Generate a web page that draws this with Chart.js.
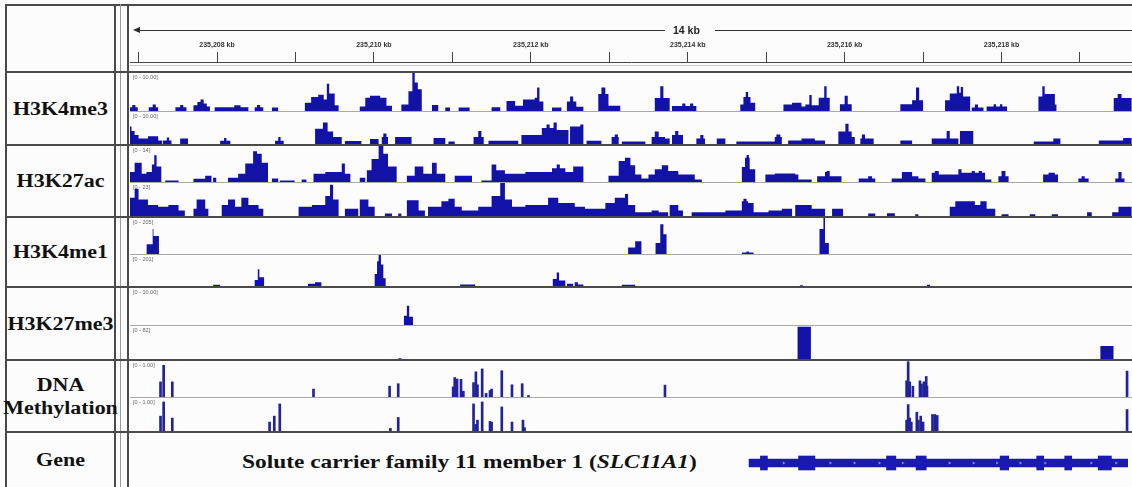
<!DOCTYPE html>
<html>
<head>
<meta charset="utf-8">
<script src="https://cdn.jsdelivr.net/npm/chart.js@4.4.1/dist/chart.umd.min.js"></script>
<style>
  html, body { margin: 0; padding: 0; background: #fff; }
  #fig { position: relative; width: 1132px; height: 487px; overflow: hidden; background: #fcfcfc;
         font-family: "Liberation Serif", "Times New Roman", serif; }
  .abs { position: absolute; }
  .hline { position: absolute; height: 2px; background: #4a4a4a; }
  .sep { position: absolute; height: 1px; background: #a8a8a8; }
  .vline { position: absolute; width: 2px; background: #4a4a4a; }
  .name { position: absolute; left: 6px; width: 109px; text-align: center; font-weight: bold;
          font-size: 18px; line-height: 20px; color: #111; transform: scaleX(1.22); transform-origin: 50% 50%; }
  .range { position: absolute; left: 133px; font: 5.5px "Liberation Sans", Arial, sans-serif; color: #666; }
  #span .ln { position: absolute; top: 5px; height: 1px; background: #333; }
  #span .arrow { position: absolute; left: 0; top: 2px; width: 0; height: 0;
                 border-top: 3px solid transparent; border-bottom: 3px solid transparent; border-right: 7px solid #222; }
  #span .txt { position: absolute; left: 540px; top: -1px; font: bold 10.5px "Liberation Sans", Arial, sans-serif; color: #222; }
  #gene-name { position: absolute; left: 242px; top: 451px; font-weight: bold; font-size: 19px; color: #111;
               white-space: nowrap; transform: scaleX(1.23); transform-origin: 0 50%; }
</style>
</head>
<body>
<div id="fig"></div>
<script>
// Positions are kb offsets from 235,200 kb.
const KB_BASE = 235200;
const VIEW_START = 6.891;
const VIEW_END = 19.663;

// Coverage tracks as bedGraph intervals: [start kb, end kb, value].
const H3K4ME3_A = [
  [6.88,6.92,1.0],[6.92,6.96,1.6],[6.96,6.99,1.0],
  [7.13,7.18,1.0],[7.18,7.22,1.7],[7.22,7.25,1.0],
  [7.47,7.53,1.0],[7.53,7.57,1.6],[7.57,7.61,1.0],
  [7.70,7.75,1.5],[7.75,7.79,2.4],[7.79,7.83,3.0],[7.83,7.87,2.0],[7.87,7.91,1.2],
  [7.97,8.22,1.0],[8.22,8.30,1.5],[8.30,8.40,1.0],
  [8.48,8.51,1.0],[8.51,8.55,1.6],[8.55,8.59,1.0],
  [8.70,8.78,0.9],
  [9.12,9.20,2.2],[9.20,9.29,3.7],[9.29,9.36,4.3],[9.36,9.40,3.0],[9.40,9.43,7.2],[9.43,9.50,4.6],[9.50,9.55,1.5],
  [9.82,9.89,1.2],[9.89,9.95,3.5],[9.95,10.08,4.0],[10.08,10.16,3.5],[10.16,10.23,1.4],
  [10.35,10.44,1.7],[10.44,10.49,5.2],[10.49,10.52,10],[10.52,10.56,7.5],[10.56,10.61,5.7],
  [10.74,10.82,1.6],[10.91,10.97,0.9],[11.08,11.22,0.9],[11.50,11.61,1.0],
  [11.69,11.80,2.6],[11.80,11.90,1.4],[11.90,12.05,3.0],[12.05,12.08,3.5],[12.08,12.11,6.2],[12.11,12.16,2.5],
  [12.27,12.39,0.9],
  [12.46,12.50,2.5],[12.50,12.54,3.8],[12.54,12.58,2.5],[12.58,12.67,1.1],
  [12.86,12.90,4.5],[12.90,12.95,6.2],[12.95,12.99,4.5],[12.99,13.14,1.4],
  [13.58,13.65,3.4],[13.65,13.69,6.5],[13.69,13.77,3.4],
  [13.80,13.93,1.3],[13.93,13.97,2.0],[13.97,14.03,1.3],[14.03,14.07,2.0],[14.07,14.11,1.3],
  [14.67,14.71,1.7],[14.71,14.74,3.7],[14.74,14.77,5.0],[14.77,14.80,3.7],[14.80,14.86,2.2],
  [15.22,15.33,1.7],[15.33,15.45,2.2],[15.45,15.50,1.2],[15.50,15.55,1.7],[15.55,15.58,4.2],[15.58,15.67,1.5],
  [15.67,15.74,3.5],[15.74,15.77,6.5],[15.77,15.81,3.5],
  [15.94,16.00,1.8],[16.00,16.04,4.0],[16.04,16.09,1.8],
  [16.71,16.86,1.8],[16.86,16.91,2.8],[16.91,16.95,6.2],[16.95,17.00,2.8],
  [17.28,17.34,2.8],[17.34,17.43,4.6],[17.43,17.46,6.5],[17.46,17.48,4.8],[17.48,17.51,6.3],[17.51,17.60,3.8],
  [17.62,17.66,0.9],[17.66,17.70,1.7],[17.70,17.77,0.9],
  [17.81,17.90,1.2],[17.90,17.93,1.8],[17.93,17.98,1.2],[17.98,18.01,1.8],[18.01,18.07,1.2],
  [18.47,18.52,3.8],[18.52,18.55,6.5],[18.55,18.68,4.5],[18.68,18.70,1.7],
  [19.43,19.48,3.4],[19.48,19.53,4.5],[19.53,19.66,3.4]
];
const H3K4ME3_B = [
  [6.87,6.91,5.5],[6.91,6.95,4.1],[6.95,7.00,2.8],[7.00,7.12,1.7],[7.12,7.25,2.4],[7.25,7.30,1.1],
  [7.31,7.36,1.1],[7.36,7.39,2.0],[7.39,7.42,1.1],
  [7.53,7.63,1.7],
  [8.04,8.09,1.0],[8.09,8.12,1.9],[8.12,8.17,1.0],
  [8.74,8.78,1.0],[8.78,8.81,2.2],[8.81,8.85,1.0],
  [9.25,9.35,4.8],[9.35,9.41,6.7],[9.41,9.48,3.9],[9.48,9.59,2.2],
  [9.63,9.84,0.9],[9.95,10.06,1.6],
  [10.10,10.12,2.2],[10.12,10.16,3.3],[10.16,10.18,2.2],
  [10.27,10.48,2.2],[10.76,10.91,1.9],[10.95,11.03,0.8],
  [11.27,11.33,2.2],[11.33,11.37,4.1],[11.37,11.40,2.2],
  [11.46,11.84,1.0],
  [11.88,12.14,2.8],[12.14,12.20,5.0],[12.20,12.24,6.1],[12.24,12.29,5.0],[12.29,12.33,6.7],[12.33,12.48,4.4],
  [12.50,12.63,5.5],[12.63,12.67,6.1],
  [12.71,12.90,1.0],
  [13.03,13.07,2.2],[13.07,13.11,3.0],[13.11,13.12,2.2],
  [13.16,13.46,0.8],
  [13.54,13.58,2.2],[13.58,13.63,3.9],[13.63,13.71,2.2],[13.71,13.77,1.7],
  [13.80,13.84,2.8],[13.84,13.88,4.1],[13.88,13.94,2.8],
  [14.11,14.16,1.7],[14.16,14.20,2.8],[14.20,14.22,1.7],
  [14.37,14.48,1.7],[14.62,15.11,0.8],
  [15.11,15.13,2.2],[15.13,15.18,3.0],[15.18,15.20,2.2],
  [15.28,15.45,1.1],[15.45,15.62,1.7],[15.62,15.75,1.1],
  [15.92,16.01,3.9],[16.01,16.05,6.3],[16.05,16.09,3.9],[16.09,16.13,2.2],
  [16.20,16.22,1.7],[16.22,16.26,3.0],[16.26,16.37,1.7],
  [16.71,16.86,1.1],
  [17.11,17.30,1.7],[17.30,17.34,4.1],[17.34,17.45,1.7],[17.47,17.64,4.1],
  [18.41,18.66,0.8],[18.66,18.75,1.7],
  [19.24,19.55,1.1],[19.55,19.66,1.9]
];
const H3K27AC_A = [
  [6.87,6.95,3.9],[6.95,7.04,7.5],[7.04,7.10,3.2],[7.10,7.17,3.9],[7.17,7.20,6.8],[7.20,7.23,10.4],[7.23,7.29,6.0],
  [7.34,7.51,0.6],
  [7.70,7.85,1.3],[7.85,7.93,2.4],[7.95,7.99,1.7],
  [8.14,8.27,1.7],[8.27,8.36,3.2],[8.36,8.46,7.2],[8.46,8.51,12.0],[8.51,8.57,11.0],[8.57,8.65,7.5],
  [8.70,8.78,1.4],[8.80,8.99,0.6],[9.08,9.14,1.0],
  [9.23,9.38,3.2],[9.38,9.59,3.9],[9.59,9.63,7.2],[9.63,9.70,3.2],
  [9.82,9.89,1.7],[9.91,9.97,4.6],[9.97,10.06,8.9],[10.06,10.12,14],[10.12,10.18,11.0],[10.18,10.29,6.0],
  [10.42,10.52,2.4],[10.52,10.63,6.0],[10.63,10.74,3.2],[10.74,10.80,7.5],[10.80,10.91,3.2],
  [11.03,11.25,2.4],
  [11.37,11.50,0.6],[11.50,11.56,6.8],[11.56,11.67,4.6],[11.67,11.93,3.2],[11.93,12.27,3.9],
  [12.27,12.33,5.3],[12.33,12.37,6.8],[12.37,12.44,5.3],[12.44,12.54,3.9],[12.54,12.67,6.0],
  [12.99,13.12,2.4],[13.12,13.20,8.2],[13.20,13.27,9.4],[13.27,13.33,6.5],
  [13.33,13.41,2.9],[13.41,13.50,1.4],[13.50,13.58,2.9],[13.58,13.67,5.0],[13.67,13.75,6.5],[13.75,13.88,4.3],
  [13.88,14.09,2.9],[14.09,14.18,1.0],
  [14.69,14.73,5.8],[14.73,14.75,9.4],[14.75,14.78,10.5],[14.78,14.79,9.4],[14.79,14.86,5.0],
  [14.99,15.11,2.9],[15.11,15.37,3.3],[15.37,15.41,2.9],[15.41,15.58,1.0],
  [15.65,15.75,2.2],[15.75,15.77,3.9],[15.77,15.81,4.3],[15.81,15.96,2.2],
  [16.18,16.30,1.4],[16.30,16.35,2.2],[16.35,16.39,1.4],
  [16.60,16.73,1.4],[16.73,16.86,3.9],[16.86,16.94,2.2],[16.94,17.03,1.4],
  [17.11,17.15,3.6],[17.15,17.20,4.3],[17.20,17.45,2.9],[17.45,17.49,5.0],[17.49,17.62,3.6],[17.62,17.66,4.3],
  [17.66,17.71,3.6],[17.71,17.75,4.3],[17.75,17.79,3.6],[17.79,17.87,1.0],
  [17.96,18.00,2.2],[18.00,18.05,4.3],[18.05,18.09,2.2],
  [18.53,18.60,2.9],[18.60,18.68,3.6],[18.68,18.72,2.9],
  [18.98,19.02,1.4],[19.02,19.06,2.2],[19.06,19.11,1.4],
  [19.45,19.49,1.4],[19.49,19.53,3.9],[19.53,19.57,1.4]
];
const H3K27AC_B = [
  [6.87,6.95,12.8],[6.95,7.00,19.0],[7.00,7.12,11.5],[7.12,7.25,7.7],[7.25,7.38,6.4],[7.38,7.51,7.7],[7.51,7.59,3.8],
  [7.70,7.74,5.1],[7.74,7.85,11.5],[7.85,7.89,5.1],
  [8.06,8.14,7.7],[8.14,8.23,11.5],[8.23,8.31,6.4],[8.31,8.40,12.8],[8.40,8.53,7.7],[8.53,8.59,5.1],
  [9.04,9.21,6.4],[9.21,9.38,7.7],[9.38,9.44,14.0],[9.44,9.48,21.8],[9.48,9.55,11.5],
  [9.63,9.80,5.1],[9.82,9.93,11.5],[9.93,10.01,6.4],
  [10.14,10.23,1.8],[10.31,10.35,1.8],
  [10.42,10.57,11.0],[10.57,10.65,3.8],
  [10.69,10.86,6.4],[10.86,10.95,10.2],[10.95,11.03,12.0],[11.03,11.12,6.4],[11.12,11.33,3.8],
  [11.33,11.50,6.4],[11.50,11.61,14.0],[11.61,11.67,23],[11.67,11.76,11.5],[11.76,11.93,6.4],[11.93,12.22,7.7],
  [12.22,12.35,12.8],[12.35,12.56,9.0],[12.56,12.69,6.4],[12.69,12.95,5.1],[12.95,13.07,9.0],[13.07,13.20,12.8],
  [13.20,13.24,15.4],[13.24,13.33,7.7],[13.33,13.54,2.6],[13.54,13.63,3.8],[13.63,13.75,2.6],
  [13.77,13.88,7.7],[13.88,13.94,3.8],
  [14.05,14.48,2.6],[14.48,14.69,3.8],[14.69,14.71,10.2],[14.71,14.75,12.0],[14.75,14.77,10.2],[14.77,14.84,9.0],
  [14.84,15.03,2.6],[15.03,15.20,3.8],[15.20,15.33,5.1],[15.37,15.58,7.7],[15.58,15.75,5.1],[15.84,15.98,5.1],
  [16.30,16.39,1.8],[16.54,16.64,2.0],[16.90,16.94,1.3],
  [17.34,17.41,6.4],[17.41,17.66,10.2],[17.66,17.73,7.7],[17.73,17.81,10.2],[17.81,17.92,5.1],
  [18.00,18.09,1.3],[18.36,18.43,1.3],[18.64,18.72,1.3],[19.09,19.15,2.6],[19.41,19.49,2.6],[19.49,19.66,6.4]
];
const H3K4ME1_A = [
  [7.10,7.18,55],[7.18,7.19,143],[7.19,7.26,102],
  [13.24,13.33,37],[13.33,13.41,72],
  [13.59,13.65,62],[13.65,13.69,170],[13.69,13.73,113],
  [14.69,14.75,8],[14.75,14.78,14],[14.78,14.84,8],
  [15.68,15.73,143],[15.73,15.75,205],[15.75,15.80,62]
];
const H3K4ME1_B = [
  [7.95,8.04,8],[8.48,8.52,39],[8.52,8.54,108],[8.54,8.60,56],
  [9.16,9.25,14],[9.25,9.33,25],
  [10.01,10.04,77],[10.04,10.06,160],[10.06,10.09,201],[10.09,10.12,139],[10.12,10.15,50],
  [11.10,11.29,10],
  [12.28,12.33,46],[12.33,12.36,87],[12.36,12.44,35],[12.46,12.54,14],[12.56,12.60,25],[12.60,12.67,10],
  [13.16,13.33,8],[15.43,15.47,5],[17.05,17.09,8]
];
const H3K27ME3_A = [[10.38,10.42,2.5],[10.42,10.45,5.2],[10.45,10.50,2.2]];
const H3K27ME3_B = [[10.31,10.35,2],[15.40,15.57,80],[19.26,19.43,32]];

// CpG methylation levels: [position kb, beta].
const METH_A = [
  [7.28,0.42],[7.32,0.88],[7.43,0.42],[9.23,0.22],[10.20,0.30],[10.31,0.37],
  [11.01,0.28],[11.03,0.54],[11.06,0.50],[11.11,0.49],[11.14,0.16],[11.27,0.40],[11.30,0.70],[11.32,0.34],
  [11.38,0.78],[11.43,0.10],[11.48,0.18],[11.50,0.22],[11.63,0.73],[11.76,0.34],[11.89,0.37],[11.97,0.04],
  [13.71,0.33],[16.79,0.45],[16.81,0.98],[16.83,0.42],[16.87,0.30],[16.96,0.45],[16.98,0.36],[17.01,0.42],
  [17.04,0.57],[17.05,0.30],[19.60,0.72]
];
const METH_B = [
  [7.28,0.45],[7.32,0.88],[7.43,0.39],[8.67,0.27],[8.73,0.45],[8.80,0.82],[10.21,0.08],[10.31,0.41],
  [11.27,0.82],[11.30,0.20],[11.32,0.33],[11.38,0.88],[11.48,0.29],[11.50,0.27],[11.63,0.73],[11.76,0.27],
  [11.90,0.33],[11.92,0.10],[16.79,0.33],[16.81,0.80],[16.83,0.39],[16.85,0.27],[16.92,0.57],[16.94,0.33],
  [16.97,0.45],[17.00,0.27],[17.12,0.50],[17.15,0.50],[17.18,0.47],[19.60,0.65]
];

// SLC11A1 model: transcript span, exons, strand marks.
const GENE_SPAN = [[14.794, 19.70]];
const GENE_EXONS = [
  [14.94,15.03],[15.43,15.64],[16.56,16.68],[16.94,17.07],[18.02,18.13],[18.49,18.58],[18.85,18.94],[19.28,19.45]
];
const STRAND_MARKS = [15.24,15.84,16.15,16.47,16.77,17.37,17.68,17.98,18.28,18.60,19.19,19.51];

// Data ranges as shown in each subtrack header.
const RANGE_MAX = [10, 10, 14, 23, 205, 201, 10, 82, 1, 1];
const RANGE_TEXT = ['[0 - 10.00]', '[0 - 10.00]', '[0 - 14]', '[0 - 23]', '[0 - 205]', '[0 - 201]',
                    '[0 - 10.00]', '[0 - 82]', '[0 - 1.00]', '[0 - 1.00]'];
const TRACK_NAMES = ['H3K4me3', 'H3K27ac', 'H3K4me1', 'H3K27me3', 'DNA<br>Methylation'];

const BLUE = '#1212a8';

// row geometry: top border, subtrack separator, bottom border
const ROWS = [
  { top: 72, sep: 111, bottom: 145 },
  { top: 145, sep: 182, bottom: 217 },
  { top: 217, sep: 254, bottom: 287 },
  { top: 287, sep: 325, bottom: 360 },
  { top: 360, sep: 397, bottom: 432 },
];

const fig = document.getElementById('fig');

function el(cls, css, html) {
  const d = document.createElement('div');
  if (cls) d.className = cls;
  Object.assign(d.style, css);
  if (html !== undefined) d.innerHTML = html;
  fig.appendChild(d);
  return d;
}

function canvasBox(top, height, left = 130, width = 1002) {
  const box = el('abs', { left: left + 'px', top: top + 'px', width: width + 'px', height: height + 'px' });
  const c = document.createElement('canvas');
  box.appendChild(c);
  return c;
}

// bedGraph intervals -> step points (value holds until the next point)
function stepPoints(intervals) {
  const pts = [];
  intervals.forEach(([s, e, v], i) => {
    pts.push({ x: s, y: v });
    const next = intervals[i + 1];
    if (!next || next[0] > e + 1e-9) pts.push({ x: e, y: 0 });
  });
  return pts;
}

const hiddenX = { type: 'linear', min: VIEW_START, max: VIEW_END, display: false };
const base = {
  responsive: true, maintainAspectRatio: false, animation: false,
  layout: { padding: 0 },
  plugins: { legend: { display: false }, tooltip: { enabled: false } },
  events: [],
};

function coverageChart(canvas, intervals, max) {
  return new Chart(canvas, {
    type: 'line',
    data: { datasets: [{
      data: stepPoints(intervals), stepped: 'before', fill: 'origin', clip: 0,
      backgroundColor: BLUE, borderColor: 'transparent', pointRadius: 0,
    }] },
    options: { ...base, scales: { x: hiddenX, y: { min: 0, max, display: false } } },
  });
}

function methylationChart(canvas, sites, max) {
  return new Chart(canvas, {
    type: 'bar',
    data: { datasets: [{
      data: sites.map(([x, y]) => ({ x, y })), backgroundColor: '#22229a', barThickness: 2, clip: 0,
    }] },
    options: { ...base, scales: { x: { ...hiddenX, offset: false }, y: { min: 0, max, display: false } } },
  });
}

// frame: outer border, row borders, label column divider
el('hline', { left: '5px', top: '4px', width: '1127px' });
el('vline', { left: '5px', top: '4px', height: '483px' });
el('vline', { left: '114px', top: '4px', height: '483px' });
el('abs', { left: '120px', top: '4px', width: '1px', height: '483px', background: '#999' });
el('vline', { left: '127px', top: '4px', height: '483px' });
[...ROWS.map(r => r.top), 432].forEach(y => el('hline', { left: '5px', top: (y - 1) + 'px', width: '1127px' }));
el('sep', { left: '130px', top: '65px', width: '1002px', background: '#c8c8c8' });

// track rows
const plotted = [
  [H3K4ME3_A, H3K4ME3_B], [H3K27AC_A, H3K27AC_B], [H3K4ME1_A, H3K4ME1_B],
  [H3K27ME3_A, H3K27ME3_B], [METH_A, METH_B],
];
ROWS.forEach((r, i) => {
  const twoLine = TRACK_NAMES[i].includes('<br>');
  const mid = (r.top + r.bottom) / 2;
  el('name', { top: (mid - (twoLine ? 22 : 10)) + 'px', lineHeight: twoLine ? '23px' : '20px' }, TRACK_NAMES[i]);
  el('sep', { left: '130px', top: r.sep + 'px', width: '1002px' });

  const hA = r.sep - (r.top + 1), hB = r.bottom - 1 - (r.sep + 1);
  const cA = canvasBox(r.top + 1, hA);
  const cB = canvasBox(r.sep + 1, hB);
  const [dA, dB] = plotted[i];
  if (i === 4) {
    methylationChart(cA, dA, RANGE_MAX[2 * i]);
    methylationChart(cB, dB, RANGE_MAX[2 * i + 1]);
  } else {
    coverageChart(cA, dA, RANGE_MAX[2 * i]);
    coverageChart(cB, dB, RANGE_MAX[2 * i + 1]);
  }
  el('range', { top: (r.top + 2) + 'px' }, RANGE_TEXT[2 * i]);
  el('range', { top: (r.sep + 2) + 'px' }, RANGE_TEXT[2 * i + 1]);
});

// span indicator above the ruler
const span = el('', { position: 'absolute', left: '133px', top: '25px', width: '999px', height: '11px' });
span.id = 'span';
span.innerHTML = '<div class="arrow"></div><div class="ln" style="left:2px;width:530px"></div>' +
                 '<div class="txt">14 kb</div><div class="ln" style="left:582px;width:417px"></div>';

// ruler: ticks every kb, labels on even kb. Chart.js caps a horizontal axis at half the
// canvas height, so the canvas runs on below the axis band with an empty chart area.
new Chart(canvasBox(37, 56), {
  type: 'scatter',
  data: { datasets: [{ data: [] }] },
  options: {
    ...base,
    scales: {
      x: {
        type: 'linear', position: 'top', min: VIEW_START, max: VIEW_END,
        afterFit: (scale) => { scale.height = 25; },
        border: { display: true, color: '#444', width: 1 },
        grid: { drawOnChartArea: false, drawTicks: true, tickLength: 10, color: '#444', lineWidth: 1 },
        ticks: {
          stepSize: 1, includeBounds: false, autoSkip: false, maxRotation: 0, minRotation: 0, padding: 3,
          color: '#333', font: { family: 'Arial', size: 7, weight: 'bold' },
          callback: (v) => (Math.round(v) % 2 === 0 ? (KB_BASE + Math.round(v)).toLocaleString('en-US') + ' kb' : ''),
        },
      },
      y: { display: false, min: 0, max: 1 },
    },
  },
});

// gene track
el('name', { top: '450px' }, 'Gene');
const gname = el('', {}, 'Solute carrier family 11 member 1 (<i>SLC11A1</i>)');
gname.id = 'gene-name';

new Chart(canvasBox(448, 30), {
  type: 'bar',
  data: {
    labels: ['SLC11A1'],
    datasets: [
      { data: GENE_SPAN.map(x => ({ x, y: 'SLC11A1' })), backgroundColor: '#1a1ab0', barThickness: 8, grouped: false, order: 3 },
      { data: GENE_EXONS.map(x => ({ x, y: 'SLC11A1' })), backgroundColor: '#1a1ab0', barThickness: 14, grouped: false, order: 2 },
      { type: 'scatter', data: STRAND_MARKS.map(x => ({ x, y: 'SLC11A1' })), pointStyle: 'triangle', rotation: 90,
        radius: 1.8, backgroundColor: 'rgba(150,150,230,0.9)', borderWidth: 0, order: 1 },
    ],
  },
  options: {
    ...base, indexAxis: 'y',
    scales: { x: { ...hiddenX, offset: false }, y: { type: 'category', display: false } },
  },
});
</script>
</body>
</html>
